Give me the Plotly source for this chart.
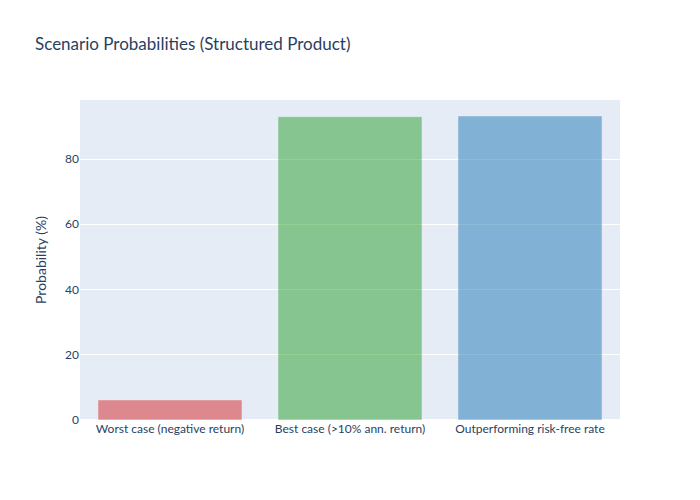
import plotly.graph_objects as go

# scenario probabilities
scenarios = ["Worst case (negative return)", "Best case (>10% ann. return)", "Outperforming risk-free rate"]
probabilities = [6.15, 93.0, 93.2]
bar_colors = ["#d62728", "#2ca02c", "#1f77b4"]

fig = go.Figure(
    data=[go.Bar(x=scenarios, y=probabilities, marker_color=bar_colors, opacity=0.5)]
)
fig.update_layout(
    title="Scenario Probabilities (Structured Product)",
    yaxis_title="Probability (%)",
    font_family="Source Sans Pro, Lato, sans-serif",
    width=700,
    height=500,
)
# page has no margin so the 700x500 figure sits at the top-left corner
fig.write_html(
    "out.html",
    config={"displayModeBar": False},
    post_script="document.body.style.margin = '0px';",
)
